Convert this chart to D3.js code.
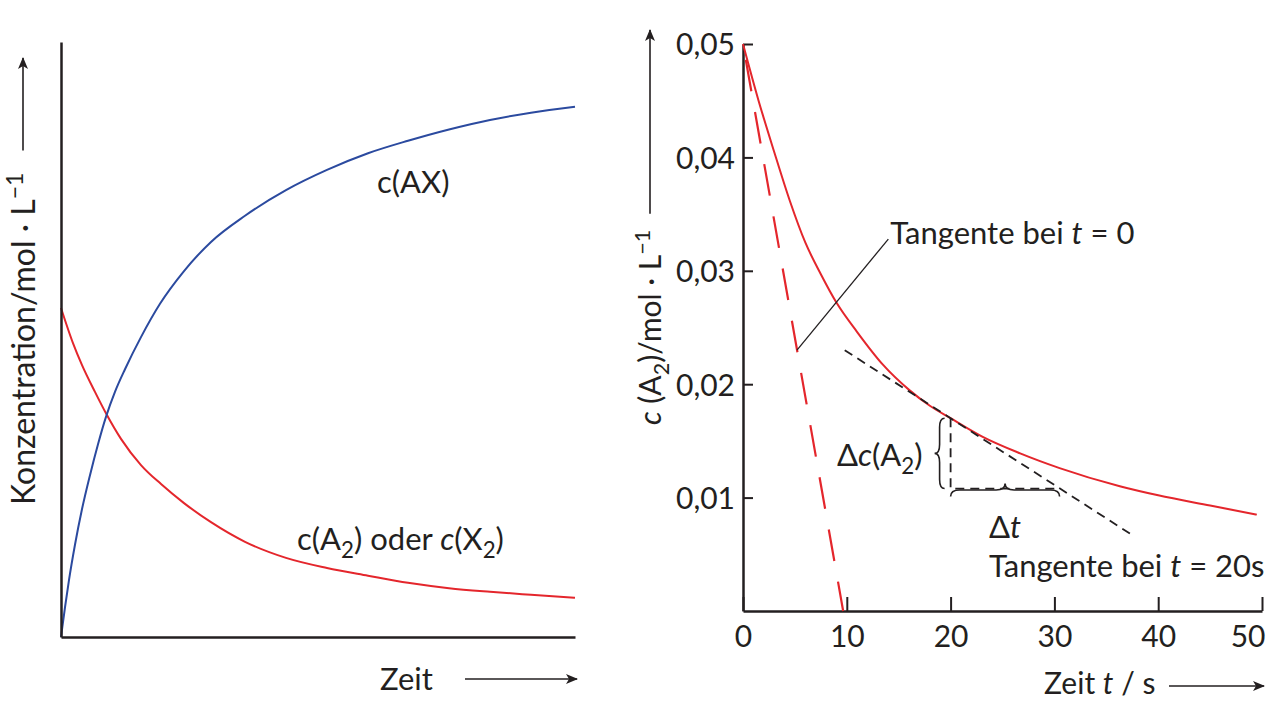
<!doctype html>
<html lang="de">
<head>
<meta charset="utf-8">
<title>Reaktionsgeschwindigkeit</title>
<script src="https://cdnjs.cloudflare.com/ajax/libs/d3/7.8.5/d3.min.js"></script>
<style>
  body { margin: 0; background: #fff; }
  svg { display: block; font-family: Lato, "Open Sans", sans-serif; fill: #231f20; }
</style>
</head>
<body>
<svg id="svg" width="1276" height="702"></svg>
<script>
// ---- left panel: arbitrary units (no scale in the picture), 0..10 on both axes
var leftTimeAX = [0, 0.078, 0.156, 0.272, 0.409, 0.564, 0.72, 0.875, 1.05, 1.245, 1.556, 1.926, 2.393, 2.918, 3.58, 4.377, 5.175, 5.973, 6.751, 7.549, 8.346, 9.144, 10];
var concAX     = [0, 0.50, 0.96, 1.55, 2.15, 2.72, 3.24, 3.70, 4.12, 4.50, 5.04, 5.60, 6.15, 6.64, 7.08, 7.51, 7.85, 8.13, 8.34, 8.53, 8.69, 8.81, 8.91];
var leftTimeA2 = [0, 0.233, 0.409, 0.661, 0.875, 1.167, 1.556, 1.946, 2.393, 2.918, 3.58, 4.377, 5.175, 5.973, 6.751, 7.549, 8.346, 9.144, 10];
var concA2     = [5.53, 4.94, 4.57, 4.12, 3.76, 3.33, 2.89, 2.57, 2.25, 1.93, 1.60, 1.33, 1.16, 1.03, 0.91, 0.82, 0.76, 0.71, 0.66];

// ---- right panel: c(A2) in mol/L against t in s
var timeTicks = [0, 10, 20, 30, 40, 50];
var concTicks = [0.01, 0.02, 0.03, 0.04, 0.05];
var curveT = [0, 1.5, 3, 4.5, 6, 7.5, 9, 11, 13.5, 16, 18, 20, 23, 26.7, 30.5, 36.3, 40, 45, 49.5];
var curveC = [0.0500, 0.0450, 0.0405, 0.0362, 0.0325, 0.0297, 0.0272, 0.0246, 0.0217, 0.0195, 0.0181, 0.0170, 0.0154, 0.0139, 0.0126, 0.0110, 0.0102, 0.0093, 0.0085];
var tangent0T = [0, 9.65];
var tangent0C = [0.05, 0];
var tangent20T = [9.8, 37.5];
var tangent20C = [0.0230, 0.0067];
var deltaT = [20, 30.5];          // horizontal leg of the slope triangle
var deltaC = [0.0170, 0.0108];    // vertical leg
var leaderT = [5.2, 14.0];        // pointer to "Tangente bei t = 0"
var leaderC = [0.0230, 0.0328];

var red = "#e4262c", blue = "#2b4a9f", ink = "#231f20";
var svg = d3.select("#svg");

svg.append("defs").append("marker")
  .attr("id", "arr").attr("viewBox", "0 0 12 10").attr("refX", 11).attr("refY", 5)
  .attr("markerWidth", 12).attr("markerHeight", 10).attr("markerUnits", "userSpaceOnUse")
  .attr("orient", "auto")
  .append("path").attr("d", "M0,0 L12,5 L0,10 L3,5 Z").attr("fill", ink);

// text with italic / sub / sup pieces
function rich(sel, parts) {
  var size = +sel.attr("font-size"), shift = 0;
  parts.forEach(function(p) {
    var ts = sel.append("tspan").text(p.t);
    var target = p.sub ? size * 0.25 : (p.sup ? -size * 0.38 : 0);
    if (target !== shift) { ts.attr("dy", target - shift); shift = target; }
    if (p.sub || p.sup) ts.attr("font-size", size * 0.72);
    if (p.i) ts.attr("font-style", "italic");
  });
  return sel;
}

function zip(a, b) { return a.map(function(v, i) { return [v, b[i]]; }); }

// curly brace from (x1,y1) to (x2,y2), tip pushed w px to the left of the direction
function brace(x1, y1, x2, y2, w) {
  var L = Math.hypot(x2 - x1, y2 - y1), ux = (x2 - x1) / L, uy = (y2 - y1) / L;
  var nx = -uy, ny = ux, q = Math.min(9, L / 6);
  function P(s, t) { return (x1 + ux * s + nx * t).toFixed(1) + "," + (y1 + uy * s + ny * t).toFixed(1); }
  var h = w / 2;
  return "M" + P(0, 0) + "Q" + P(0, h) + " " + P(q, h) + "L" + P(L / 2 - q, h) +
    "Q" + P(L / 2, h) + " " + P(L / 2, w) + "Q" + P(L / 2, h) + " " + P(L / 2 + q, h) +
    "L" + P(L - q, h) + "Q" + P(L, h) + " " + P(L, 0);
}

/* ================= left panel ================= */
var xL = d3.scaleLinear().domain([0, 10]).range([61, 575]);
var yL = d3.scaleLinear().domain([0, 10]).range([637, 42]);

var lineL = d3.line().x(function(d) { return xL(d[0]); }).y(function(d) { return yL(d[1]); }).curve(d3.curveMonotoneX);

svg.append("path").datum(zip(leftTimeA2, concA2)).attr("d", lineL)
  .attr("fill", "none").attr("stroke", red).attr("stroke-width", 2);
svg.append("path").datum(zip(leftTimeAX, concAX)).attr("d", lineL)
  .attr("fill", "none").attr("stroke", blue).attr("stroke-width", 2);

svg.append("g").attr("transform", "translate(0," + yL(0) + ")")
  .call(d3.axisBottom(xL).ticks(0).tickSizeOuter(0));
svg.append("g").attr("transform", "translate(" + xL(0) + ",0)")
  .call(d3.axisLeft(yL).ticks(0).tickSizeOuter(0));
svg.selectAll(".domain").attr("stroke", ink).attr("stroke-width", 2.5);

rich(svg.append("text").attr("x", 377).attr("y", 193).attr("font-size", 31),
  [{t: "c(AX)"}]);
rich(svg.append("text").attr("x", 297).attr("y", 550).attr("font-size", 31),
  [{t: "c(A"}, {t: "2", sub: true}, {t: ") oder "}, {t: "c", i: true}, {t: "(X"}, {t: "2", sub: true}, {t: ")"}]);

svg.append("text").attr("x", 380).attr("y", 690).attr("font-size", 31).text("Zeit");
svg.append("line").attr("x1", 465).attr("x2", 577).attr("y1", 679).attr("y2", 679)
  .attr("stroke", ink).attr("stroke-width", 1.6).attr("marker-end", "url(#arr)");

var ylabL = rich(svg.append("text").attr("transform", "translate(35,505) rotate(-90)").attr("font-size", 32),
  [{t: "Konzentration/mol · L"}, {t: "−1", sup: true}]);
var lenL = ylabL.node().getComputedTextLength();
svg.append("line").attr("x1", 23).attr("x2", 23).attr("y1", 505 - lenL - 22).attr("y2", 58)
  .attr("stroke", ink).attr("stroke-width", 1.6).attr("marker-end", "url(#arr)");

/* ================= right panel ================= */
var xR = d3.scaleLinear().domain([0, 50]).range([743, 1262]);
var yR = d3.scaleLinear().domain([0, 0.05]).range([611, 44]);
var comma = function(d) { return d3.format(".2f")(d).replace(".", ","); };

var gx = svg.append("g").attr("transform", "translate(0," + yR(0) + ")")
  .call(d3.axisBottom(xR).tickValues(timeTicks).tickSize(-14).tickSizeOuter(0).tickPadding(15));
var gy = svg.append("g").attr("transform", "translate(" + xR(0) + ",0)")
  .call(d3.axisLeft(yR).tickValues(concTicks).tickSize(-10).tickSizeOuter(0).tickPadding(8).tickFormat(comma));
[gx, gy].forEach(function(g) {
  g.select(".domain").attr("stroke", ink).attr("stroke-width", 2.5);
  g.selectAll(".tick line").attr("stroke", ink).attr("stroke-width", 2);
  g.selectAll(".tick text").attr("fill", ink).attr("font-size", 30).attr("font-family", "Lato, 'Open Sans', sans-serif");
});
gy.selectAll(".tick text").attr("dy", "0.36em");
// last time label sits flush with the end of the axis
gx.selectAll(".tick text").filter(function(d) { return d === 50; }).attr("text-anchor", "end").attr("x", 3);

var lineR = d3.line().x(function(d) { return xR(d[0]); }).y(function(d) { return yR(d[1]); });

svg.append("path").datum(zip(tangent0T, tangent0C)).attr("d", lineR)
  .attr("fill", "none").attr("stroke", red).attr("stroke-width", 2.2)
  .attr("stroke-dasharray", "32,21").attr("stroke-dashoffset", 37);
svg.append("path").datum(zip(curveT, curveC)).attr("d", lineR.curve(d3.curveMonotoneX))
  .attr("fill", "none").attr("stroke", red).attr("stroke-width", 2);
lineR.curve(d3.curveLinear);

svg.append("path").datum(zip(tangent20T, tangent20C)).attr("d", lineR)
  .attr("fill", "none").attr("stroke", ink).attr("stroke-width", 1.8).attr("stroke-dasharray", "9,6");
svg.append("path").datum([[deltaT[0], deltaC[0]], [deltaT[0], deltaC[1]], [deltaT[1], deltaC[1]]]).attr("d", lineR)
  .attr("fill", "none").attr("stroke", ink).attr("stroke-width", 1.8).attr("stroke-dasharray", "9,6");

svg.append("path").datum(zip(leaderT, leaderC)).attr("d", lineR)
  .attr("fill", "none").attr("stroke", ink).attr("stroke-width", 1.3);

// braces
svg.append("path").attr("d", brace(xR(deltaT[0]) - 6, yR(deltaC[0]), xR(deltaT[0]) - 6, yR(deltaC[1]), 10))
  .attr("fill", "none").attr("stroke", ink).attr("stroke-width", 1.6);
svg.append("path").attr("d", brace(xR(deltaT[1]), yR(deltaC[1]) + 8, xR(deltaT[0]), yR(deltaC[1]) + 8, 13))
  .attr("fill", "none").attr("stroke", ink).attr("stroke-width", 1.6);

rich(svg.append("text").attr("x", xR(leaderT[1]) + 2).attr("y", 244).attr("font-size", 31),
  [{t: "Tangente bei "}, {t: "t", i: true}, {t: " = 0"}]);
rich(svg.append("text").attr("x", 989).attr("y", 577).attr("font-size", 31),
  [{t: "Tangente bei "}, {t: "t", i: true}, {t: " = 20s"}]);
rich(svg.append("text").attr("x", xR(deltaT[0]) - 28).attr("y", 466).attr("font-size", 31).attr("text-anchor", "end"),
  [{t: "Δ"}, {t: "c", i: true}, {t: "(A"}, {t: "2", sub: true}, {t: ")"}]);
rich(svg.append("text").attr("x", (xR(deltaT[0]) + xR(deltaT[1])) / 2).attr("y", 538).attr("font-size", 31).attr("text-anchor", "middle"),
  [{t: "Δ"}, {t: "t", i: true}]);

rich(svg.append("text").attr("x", 1044).attr("y", 694).attr("font-size", 30),
  [{t: "Zeit "}, {t: "t", i: true}, {t: " / s"}]);
svg.append("line").attr("x1", 1169).attr("x2", 1264).attr("y1", 686).attr("y2", 686)
  .attr("stroke", ink).attr("stroke-width", 1.6).attr("marker-end", "url(#arr)");

var ylabR = rich(svg.append("text").attr("transform", "translate(661,425) rotate(-90)").attr("font-size", 30),
  [{t: "c", i: true}, {t: " (A"}, {t: "2", sub: true}, {t: ")/mol · L"}, {t: "−1", sup: true}]);
var lenR = ylabR.node().getComputedTextLength();
svg.append("line").attr("x1", 650).attr("x2", 650).attr("y1", 425 - lenR - 16).attr("y2", 30)
  .attr("stroke", ink).attr("stroke-width", 1.6).attr("marker-end", "url(#arr)");
</script>
</body>
</html>
